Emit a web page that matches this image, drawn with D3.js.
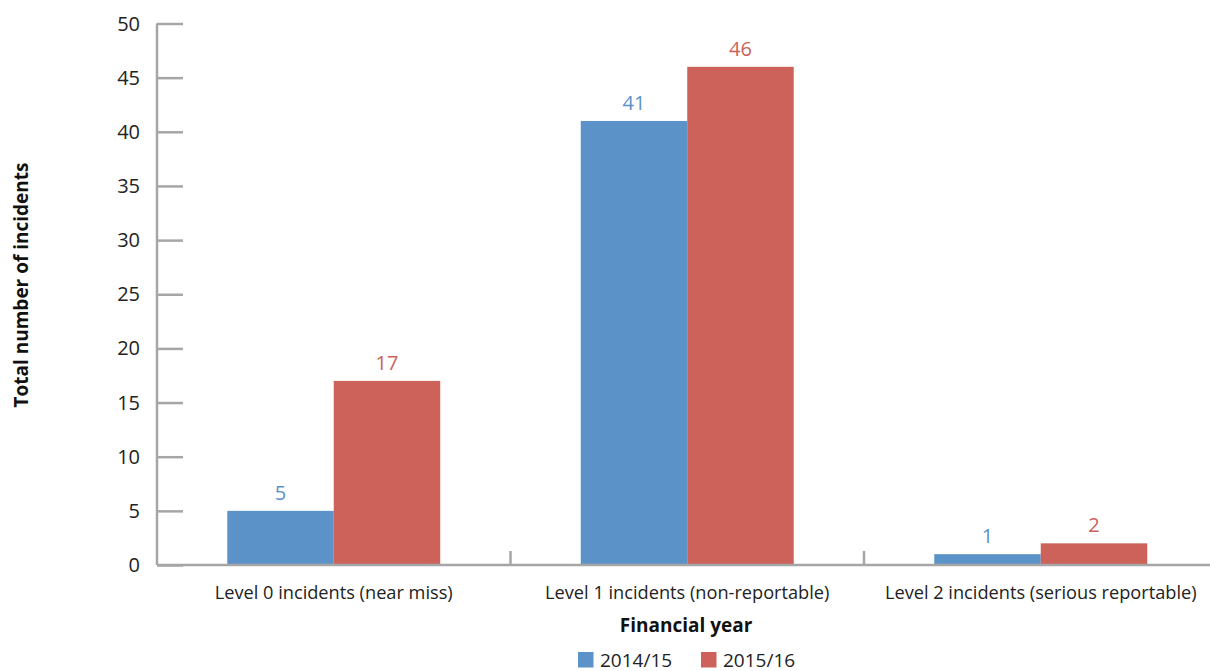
<!DOCTYPE html>
<html><head><meta charset="utf-8">
<script src="https://cdn.jsdelivr.net/npm/d3@7"></script>
<style>
body{margin:0;background:#fff;}
svg{display:block;font-family:"Open Sans","Noto Sans",sans-serif;}
</style></head><body>
<svg id="chart" width="1210" height="671"></svg>
<script>
const categories = ["Level 0 incidents (near miss)", "Level 1 incidents (non-reportable)", "Level 2 incidents (serious reportable)"];
const seriesNames = ["2014/15", "2015/16"];
const values2014 = [5, 41, 1];
const values2015 = [17, 46, 2];
const yTicks = [0, 5, 10, 15, 20, 25, 30, 35, 40, 45, 50];

const colors = ["#5b93c8", "#cc625a"];
const svg = d3.select("#chart");
const mLeft = 157, mRight = 1217.5, mTop = 23.5, mBottom = 565;
const axisColor = "#a6a6a6";

const x0 = d3.scaleBand().domain(categories).range([mLeft, mRight]).paddingInner(0).paddingOuter(0);
const x1 = d3.scaleBand().domain(seriesNames).range([0, x0.bandwidth()]).paddingInner(0).paddingOuter(0.66);
const y = d3.scaleLinear().domain([0, 50]).range([mBottom, mTop]);

const data = categories.map((c, i) => ({cat: c, vals: [values2014[i], values2015[i]]}));

// y axis
const yAxis = svg.append("g").attr("transform", `translate(${mLeft},0)`)
  .call(d3.axisRight(y).tickValues(yTicks).tickSize(26).tickPadding(0).tickFormat(""));
yAxis.selectAll("line").attr("stroke", axisColor).attr("stroke-width", 2.5);
yAxis.select(".domain").remove();
svg.append("line").attr("x1", mLeft).attr("x2", mLeft).attr("y1", y(50)).attr("y2", mBottom)
  .attr("stroke", axisColor).attr("stroke-width", 2.5);
svg.append("g").selectAll("text").data(yTicks).join("text")
  .attr("x", mLeft - 17).attr("y", d => y(d)).attr("dy", "0.35em")
  .attr("text-anchor", "end").attr("font-size", 20).attr("fill", "#222").text(d => d);

// bars
const groups = svg.append("g").selectAll("g").data(data).join("g")
  .attr("transform", d => `translate(${x0(d.cat)},0)`);
groups.selectAll("rect").data(d => d.vals.map((v, j) => ({v, s: seriesNames[j], j}))).join("rect")
  .attr("x", d => x1(d.s)).attr("width", x1.bandwidth())
  .attr("y", d => y(d.v)).attr("height", d => y(0) - y(d.v))
  .attr("fill", d => colors[d.j]);
groups.selectAll("text").data(d => d.vals.map((v, j) => ({v, s: seriesNames[j], j}))).join("text")
  .attr("x", d => x1(d.s) + x1.bandwidth() / 2).attr("y", d => y(d.v) - 11)
  .attr("text-anchor", "middle").attr("font-size", 20).attr("fill", d => colors[d.j])
  .text(d => d.v);

// x axis
const xAxis = svg.append("g").attr("transform", `translate(0,${mBottom})`)
  .call(d3.axisBottom(x0).tickSize(0).tickPadding(0).tickFormat(""));
xAxis.select(".domain").remove();
svg.append("line").attr("x1", mLeft).attr("x2", 1210).attr("y1", mBottom).attr("y2", mBottom)
  .attr("stroke", axisColor).attr("stroke-width", 2.5);
svg.append("g").selectAll("line").data(categories.slice(1)).join("line")
  .attr("x1", d => x0(d)).attr("x2", d => x0(d)).attr("y1", mBottom).attr("y2", mBottom - 14)
  .attr("stroke", axisColor).attr("stroke-width", 2.5);
svg.append("g").selectAll("text").data(categories).join("text")
  .attr("x", d => x0(d) + x0.bandwidth() / 2).attr("y", 599)
  .attr("text-anchor", "middle").attr("font-size", 18.2).attr("fill", "#222").text(d => d);

// axis titles
svg.append("text").attr("x", 686).attr("y", 632).attr("text-anchor", "middle")
  .attr("font-size", 19).attr("font-weight", "bold").attr("fill", "#111").text("Financial year");
svg.append("text").attr("transform", "translate(28,285) rotate(-90)").attr("text-anchor", "middle")
  .attr("font-size", 19).attr("font-weight", "bold").attr("fill", "#111").text("Total number of incidents");

// legend
const legend = svg.append("g").selectAll("g").data(seriesNames).join("g")
  .attr("transform", (d, i) => `translate(${578 + i * 123},652)`);
legend.append("rect").attr("width", 15.5).attr("height", 15.5).attr("fill", (d, i) => colors[i]);
legend.append("text").attr("x", 22).attr("y", 14.5).attr("font-size", 19).attr("fill", "#222").text(d => d);
</script>
</body></html>
